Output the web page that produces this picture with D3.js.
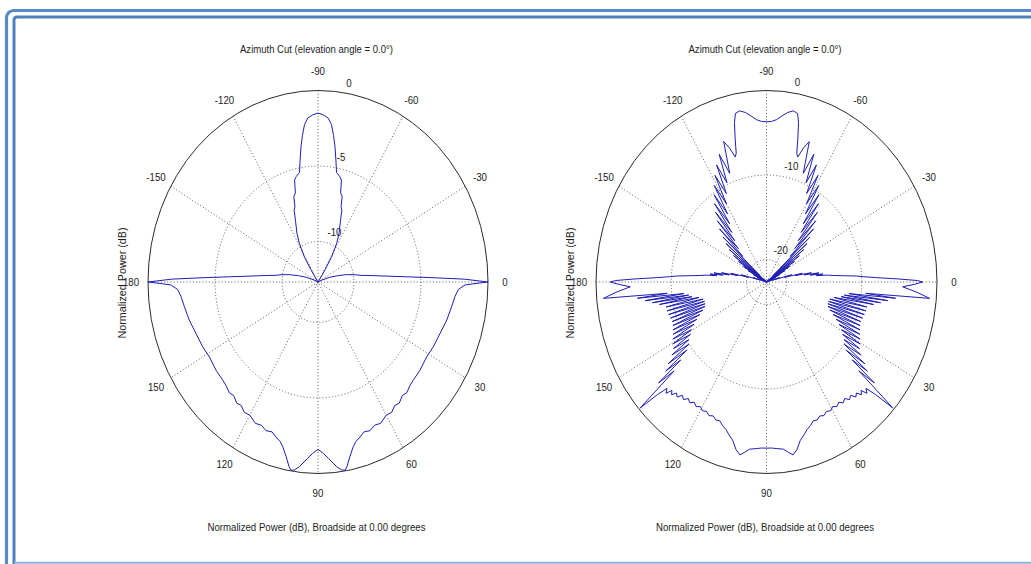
<!DOCTYPE html>
<html><head><meta charset="utf-8">
<script src="https://cdn.jsdelivr.net/npm/d3@7"></script>
<style>
body{margin:0;background:#fff}
svg{display:block}
text{font-family:"Liberation Sans",Arial,Helvetica,sans-serif;fill:#1c1c1c}
</style>
</head><body>
<svg id="chart" width="1031" height="564"></svg>
<script>
// ---------- data ----------
const titleText = "Azimuth Cut (elevation angle = 0.0°)";
const xLabelText = "Normalized Power (dB), Broadside at 0.00 degrees";
const yLabelText = "Normalized Power (dB)";
const angleTicks = [0, 30, 60, 90, 120, 150, 180, -150, -120, -90, -60, -30];
const leftRings = [-10, -5, 0];
const rightRings = [-20, -10, 0];
const leftRMin = -12.68;
const rightRMin = -22.66;

const leftAngles = [
-180,-179,-178,-177,-176,-174,-172,-170,-167,-164,
-160,-155,-150,-140,-130,-126,-123,-121.3,-118.5,-116,
-112.5,-110.5,-109,-107.7,-106,-104.5,-103,-100.8,-99.4,-98,
-96.8,-95.5,-94,-92,-90,-88,-86,-84.5,-83.2,-82,
-80.6,-79.2,-77,-75.5,-74,-72.3,-71,-69.5,-67.5,-64,
-61.5,-58.7,-57,-54,-50,-40,-30,-25,-20,-16,
-13,-10,-8,-6,-4,-3,-2,-1,0,0.3,
1,2.7,5.4,9.3,14.7,20.5,26.5,31.5,37.5,42.5,
45,48,50,53,55,57.5,60,63.5,66,68.5,
71,73,75,76.5,78.4,80,80.8,82,83.5,86.2,
88,90,92,93.8,96.5,98,99.2,100,101.6,103.5,
105,107,109,111.5,114,116.5,120,122.5,125,127,
130,132,135,137.5,142.5,148.5,153.5,159.5,165.3,170.7,
174.6,177.3,179,179.7,180];
const leftDb = [
0,-1.78,-4.31,-6.09,-7.23,-8.62,-9.51,-9.89,-10.52,-11.16,
-11.79,-12.43,-13.2,-14,-13.5,-12.5,-11.7,-10.7,-9.75,-9.1,
-8.3,-7.6,-7.4,-6.75,-6.55,-5.7,-5.5,-5.3,-4.5,-3.6,
-2.9,-2.2,-1.8,-1.6,-1.5,-1.6,-1.8,-2.2,-2.9,-3.6,
-4.5,-5.3,-5.5,-5.7,-6.55,-6.75,-7.4,-7.6,-8.3,-9.1,
-9.75,-10.7,-11.7,-12.5,-13.5,-14,-13.2,-12.43,-11.79,-11.16,
-10.52,-9.89,-9.51,-8.62,-7.23,-6.09,-4.31,-1.78,0,-0.6,
-1.7,-2.2,-2.42,-2.58,-2.75,-2.96,-3.07,-3.18,-3.09,-3.05,
-2.98,-2.80,-2.88,-2.62,-2.70,-2.45,-2.50,-2.22,-2.30,-2.10,
-2.18,-1.95,-1.75,-1.45,-0.87,-0.26,-0.05,-0.12,-0.37,-0.98,
-1.33,-1.6,-1.33,-0.98,-0.37,-0.12,-0.05,-0.26,-0.87,-1.45,
-1.75,-1.95,-2.18,-2.10,-2.30,-2.22,-2.50,-2.45,-2.70,-2.62,
-2.88,-2.80,-2.98,-3.05,-3.09,-3.18,-3.07,-2.96,-2.75,-2.58,
-2.42,-2.2,-1.7,-0.6,0];

const rightAngles = [
-180,-179.5,-178.8,-178.0,-177.2,-176.6,-175.8,-175.0,-174.2,-173.5,
-172.8,-172.0,-171.2,-170.4,-169.6,-168.7,-167.8,-166.8,-165.8,-164.7,
-163.6,-162.4,-161.2,-160.0,-158.8,-157.7,-156.6,-155.5,-154.4,-153.3,
-152.2,-151.1,-150.0,-148.9,-147.8,-146.7,-145.6,-144.5,-143.4,-142.2,
-141.0,-139.8,-138.6,-137.4,-136.1,-134.8,-133.5,-132.1,-130.8,-129.4,
-128.1,-126.7,-125.4,-124.0,-122.7,-121.3,-119.9,-118.5,-117.0,-115.6,
-114.1,-112.6,-110.8,-108.9,-107.3,-105.7,-104.8,-103.8,-102.7,-101.7,
-100,-98,-96,-94,-92,-90,-88,-86,-84,-82,
-80,-78.3,-77.3,-76.2,-75.2,-74.3,-72.7,-71.1,-69.2,-67.4,
-65.9,-64.4,-63.0,-61.5,-60.1,-58.7,-57.3,-56.0,-54.6,-53.3,
-51.9,-50.6,-49.2,-47.9,-46.5,-45.2,-43.9,-42.6,-41.4,-40.2,
-39.0,-37.8,-36.6,-35.5,-34.4,-33.3,-32.2,-31.1,-30.0,-28.9,
-27.8,-26.7,-25.6,-24.5,-23.4,-22.3,-21.2,-20.0,-18.8,-17.6,
-16.4,-15.3,-14.2,-13.2,-12.2,-11.3,-10.4,-9.6,-8.8,-8.0,
-7.2,-6.5,-5.8,-5.0,-4.2,-3.4,-2.8,-2.0,-1.2,-0.5,
0,0.8,1.8,3.5,5.1,5.8,6.4,7.1,7.8,8.5,
9.2,9.9,10.6,11.5,12.5,13.5,14.5,15.5,16.5,17.5,
18.5,19.5,20.5,21.5,22.5,23.5,24.5,25.5,26.5,27.5,
28.5,29.5,30.5,31.5,32.5,33.5,34.5,35.5,36.5,37.3,
38.2,39.0,39.8,40.6,41.6,42.6,43.6,44.6,45.6,46.6,
47.7,48.9,50.2,51.6,53.0,54.5,56.0,57.6,59.2,60.8,
62.5,64.2,65.9,67.6,69.3,71.0,72.8,74.6,76.5,78.5,
80.2,81.8,83.5,86,88,90,92,94,96.5,98.2,
99.8,101.5,103.5,105.4,107.2,109.0,110.7,112.4,114.1,115.8,
117.5,119.2,120.8,122.4,124.0,125.5,127.0,128.4,129.8,131.1,
132.3,133.4,134.4,135.4,136.4,137.4,138.4,139.4,140.2,141.0,
141.8,142.7,143.5,144.5,145.5,146.5,147.5,148.5,149.5,150.5,
151.5,152.5,153.5,154.5,155.5,156.5,157.5,158.5,159.5,160.5,
161.5,162.5,163.5,164.5,165.5,166.5,167.5,168.5,169.4,170.1,
170.8,171.5,172.2,172.9,173.6,174.2,174.9,176.5,178.2,179.2,
180];
const rightDb = [
-1.9,-2.6,-5.2,-8.0,-9.8,-10.7,-12.5,-13.8,-14.6,-16.0,
-15.1,-16.8,-15.6,-17.6,-16.6,-18.8,-17.8,-20.2,-19.2,-21.8,
-20.8,-23.5,-22.3,-26,-30,-21.8,-30,-21.3,-30,-20.7,
-30,-19.9,-30,-19.1,-30,-18.2,-30,-17.3,-28,-16.4,
-25,-15.6,-21.5,-14.8,-18.3,-13.8,-17.2,-12.9,-16.2,-12.0,
-15.2,-11.1,-14.2,-10.2,-13.1,-9.3,-12.0,-8.3,-10.9,-7.3,
-9.8,-6.3,-8.9,-5.1,-6.0,-7.3,-6.9,-5.2,-3.3,-2.3,
-2.1,-2.4,-2.9,-3.4,-3.65,-3.7,-3.65,-3.4,-2.9,-2.4,
-2.1,-2.3,-3.3,-5.2,-6.9,-7.3,-6.0,-5.1,-8.9,-6.3,
-9.8,-7.3,-10.9,-8.3,-12.0,-9.3,-13.1,-10.2,-14.2,-11.1,
-15.2,-12.0,-16.2,-12.9,-17.2,-13.8,-18.3,-14.8,-21.5,-15.6,
-25,-16.4,-28,-17.3,-30,-18.2,-30,-19.1,-30,-19.9,
-30,-20.7,-30,-21.3,-30,-21.8,-30,-26,-22.3,-23.5,
-20.8,-21.8,-19.2,-20.2,-17.8,-18.8,-16.6,-17.6,-15.6,-16.8,
-15.1,-16.0,-14.6,-13.8,-12.5,-10.7,-9.8,-8.0,-5.2,-2.6,
-1.9,-3.0,-4.55,-2.6,-0.9,-9.4,-5.4,-11.6,-6.4,-12.2,
-7.3,-12.6,-8.2,-13.5,-9.0,-14.0,-9.0,-14.1,-9.1,-14.1,
-9.2,-14.0,-9.3,-13.6,-9.2,-13.0,-9.0,-12.4,-8.8,-11.8,
-8.5,-11.2,-8.2,-10.8,-8.0,-10.3,-7.4,-10.0,-6.4,-9.4,
-5.6,-8.0,-4.0,-6.5,-0.2,-3.0,-4.4,-3.9,-4.7,-4.3,
-4.9,-4.6,-5.2,-4.9,-5.4,-5.1,-5.5,-5.2,-5.5,-5.2,
-5.4,-5.1,-5.3,-5.0,-5.1,-4.7,-4.4,-3.9,-3.4,-2.4,
-1.9,-2.3,-2.75,-2.9,-3.0,-3.0,-3.0,-2.9,-2.75,-2.3,
-1.9,-2.4,-3.4,-3.9,-4.4,-4.7,-5.1,-5.0,-5.3,-5.1,
-5.4,-5.2,-5.5,-5.2,-5.5,-5.1,-5.4,-4.9,-5.2,-4.6,
-4.9,-4.3,-4.7,-3.9,-4.4,-3.0,-0.2,-6.5,-4.0,-8.0,
-5.6,-9.4,-6.4,-10.0,-7.4,-10.3,-8.0,-10.8,-8.2,-11.2,
-8.5,-11.8,-8.8,-12.4,-9.0,-13.0,-9.2,-13.6,-9.3,-14.0,
-9.2,-14.1,-9.1,-14.1,-9.0,-14.0,-9.0,-13.5,-8.2,-12.6,
-7.3,-12.2,-6.4,-11.6,-5.4,-9.4,-0.9,-2.6,-4.55,-3.0,
-1.9];

// ---------- drawing ----------
const svg = d3.select('#chart');
const frameBlue = '#4f81bd';

// page frame (double border)
svg.append('rect').attr('x', 6.5).attr('y', 10.5).attr('width', 1200).attr('height', 700)
  .attr('rx', 7).attr('fill', 'none').attr('stroke', '#5a8ac6').attr('stroke-width', 3.2);
svg.append('path').attr('d', 'M14,570 L14,20 Q14,17 17,17 L1100,17')
  .attr('fill', 'none').attr('stroke', frameBlue).attr('stroke-width', 3);
svg.append('line').attr('x1', 14).attr('x2', 1100).attr('y1', 562.8).attr('y2', 562.8)
  .attr('stroke', '#8fb1dc').attr('stroke-width', 2);

const rad = d => d * Math.PI / 180;

function polarPlot(cfg) {
  const { cx, cy, rx, ry, rmin, rings, angles, db } = cfg;
  const g = svg.append('g');
  const rs = d3.scaleLinear().domain([rmin, 0]).range([0, 1]).clamp(true);
  const gridColor = '#4a4a4a';

  // spokes
  [0, 30, 60, 90, 120, 150].forEach(a => {
    g.append('line')
      .attr('x1', cx - rx * Math.cos(rad(a))).attr('y1', cy - ry * Math.sin(rad(a)))
      .attr('x2', cx + rx * Math.cos(rad(a))).attr('y2', cy + ry * Math.sin(rad(a)))
      .attr('stroke', gridColor).attr('stroke-width', 0.9).attr('stroke-dasharray', '1,2.2');
  });
  // rings
  rings.forEach(v => {
    const f = rs(v);
    g.append('ellipse').attr('cx', cx).attr('cy', cy).attr('rx', rx * f).attr('ry', ry * f)
      .attr('fill', 'none')
      .attr('stroke', v === 0 ? '#2a2a2a' : gridColor)
      .attr('stroke-width', v === 0 ? 1 : 0.9)
      .attr('stroke-dasharray', v === 0 ? null : '1,2.2');
  });

  // ring labels
  const inc = rs(rings[1]) - rs(rings[0]);
  rings.forEach(v => {
    const f = rs(v) + inc / 20;
    const x = cx + f * rx * Math.cos(rad(82)) + 4;
    const y = cy - f * ry * Math.sin(rad(82)) - 2;
    g.append('text').attr('transform', `translate(${x},${y}) scale(0.88,1)`)
      .attr('font-size', 11).text(String(v));
  });

  // angle labels
  angleTicks.forEach(t => {
    const x = cx + 1.1 * rx * Math.cos(rad(t));
    const y = cy + 1.1 * ry * Math.sin(rad(t));
    g.append('text').attr('transform', `translate(${x},${y}) scale(0.88,1)`)
      .attr('text-anchor', 'middle').attr('dy', '0.36em')
      .attr('font-size', 11).text(String(t));
  });

  // pattern curve
  const pts = angles.map((a, i) => ({ a, v: db[i] }));
  const line = d3.line()
    .x(d => cx + rx * rs(d.v) * Math.cos(rad(d.a)))
    .y(d => cy + ry * rs(d.v) * Math.sin(rad(d.a)));
  g.append('path').datum(pts).attr('d', line)
    .attr('fill', 'none').attr('stroke', '#1e1eb4').attr('stroke-width', 1)
    .attr('stroke-linejoin', 'miter');

  // title, axis labels
  g.append('text').attr('x', cx - 1.5).attr('y', 52.7).attr('text-anchor', 'middle')
    .attr('font-size', 11).attr('textLength', 153).attr('lengthAdjust', 'spacingAndGlyphs')
    .text(titleText);
  g.append('text').attr('x', cx - 1.5).attr('y', 530.5).attr('text-anchor', 'middle')
    .attr('font-size', 11).attr('textLength', 218).attr('lengthAdjust', 'spacingAndGlyphs')
    .text(xLabelText);
  g.append('text').attr('transform', `translate(${cx - 192.5},283) rotate(-90)`)
    .attr('text-anchor', 'middle')
    .attr('font-size', 11).attr('textLength', 111).attr('lengthAdjust', 'spacingAndGlyphs')
    .text(yLabelText);
}

polarPlot({ cx: 318, cy: 282, rx: 170, ry: 191.5, rmin: leftRMin, rings: leftRings,
  angles: leftAngles, db: leftDb });
polarPlot({ cx: 766.5, cy: 282, rx: 170.5, ry: 191.5, rmin: rightRMin, rings: rightRings,
  angles: rightAngles, db: rightDb });
</script>
</body></html>
